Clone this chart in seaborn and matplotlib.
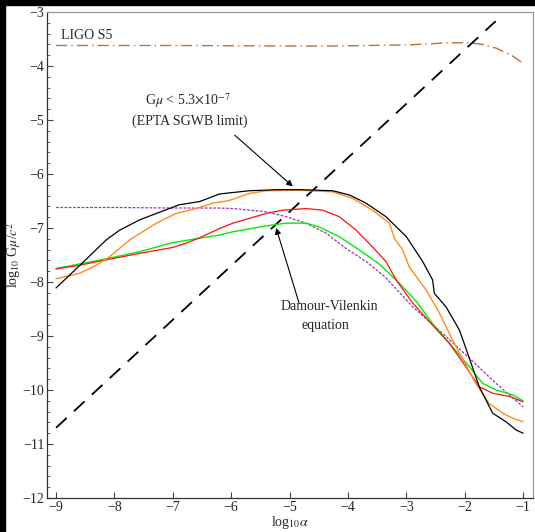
import matplotlib
matplotlib.use("Agg")
import matplotlib.pyplot as plt
import seaborn as sns
import pandas as pd
from matplotlib.patches import Rectangle
from matplotlib.ticker import MultipleLocator

# ---------------- data ----------------
black_x = [-9, -8.6, -8.14, -7.91, -7.57, -7.28, -6.89, -6.54, -6.2, -5.69, -5.2, -4.83, -4.26, -3.97,
           -3.69, -3.35, -3.0, -2.72, -2.55, -2.52, -2.32, -2.09, -1.95, -1.75, -1.52, -1.29, -1.12, -1.0]
black_y = [-8.11, -7.70, -7.22, -7.04, -6.85, -6.73, -6.57, -6.51, -6.37, -6.31, -6.29, -6.29, -6.31, -6.39,
           -6.54, -6.79, -7.16, -7.62, -7.96, -8.21, -8.46, -8.89, -9.32, -9.94, -10.43, -10.59, -10.74, -10.80]

orange_x = [-9, -8.6, -8.31, -8.08, -7.74, -7.28, -6.94, -6.6, -6.31, -6.03, -5.69, -5.4, -4.83, -4.26,
            -3.92, -3.58, -3.29, -3.2, -3.06, -2.95, -2.66, -2.43, -2.21, -2.03, -1.81, -1.58, -1.35, -1.18, -1.0]
orange_y = [-7.94, -7.84, -7.69, -7.53, -7.22, -6.91, -6.73, -6.64, -6.54, -6.49, -6.36, -6.31, -6.30, -6.33,
            -6.45, -6.67, -6.91, -7.20, -7.41, -7.72, -8.15, -8.58, -9.07, -9.44, -9.88, -10.25, -10.43, -10.52, -10.59]

red_x = [-9, -8.6, -8.14, -7.57, -7.0, -6.77, -6.54, -6.2, -5.97, -5.4, -5.12, -4.72, -4.43, -4.15,
         -3.86, -3.58, -3.35, -3.17, -2.89, -2.55, -2.26, -1.98, -1.75, -1.52, -1.23, -1.0]
red_y = [-7.76, -7.69, -7.59, -7.47, -7.36, -7.28, -7.18, -7.01, -6.91, -6.73, -6.67, -6.64, -6.67, -6.79,
         -7.04, -7.35, -7.62, -7.97, -8.39, -8.80, -9.14, -9.57, -9.94, -10.06, -10.12, -10.22]

green_x = [-9, -8.14, -7.57, -7.0, -6.2, -5.97, -5.4, -5.06, -4.72, -4.49, -4.15, -3.8, -3.46, -3.12,
           -2.83, -2.55, -2.21, -1.92, -1.69, -1.46, -1.18, -1.0]
green_y = [-7.75, -7.57, -7.44, -7.27, -7.13, -7.07, -6.96, -6.91, -6.91, -6.98, -7.16, -7.41, -7.67, -8.02,
           -8.36, -8.77, -9.20, -9.57, -9.88, -10.0, -10.09, -10.20]

purple_x = [-9, -8, -7, -6.2, -5.97, -5.4, -5.06, -4.72, -4.37, -4.03, -3.69, -3.37, -2.89, -2.32,
            -1.92, -1.46, -1.0]
purple_y = [-6.62, -6.62, -6.63, -6.63, -6.64, -6.70, -6.79, -6.91, -7.10, -7.38, -7.62, -7.90, -8.46, -9.01,
            -9.41, -9.88, -10.31]

ligo_x = [-9, -7, -5, -4.3, -3.0, -2.6, -2.32, -1.92, -1.7, -1.46, -1.2, -1.0]
ligo_y = [-3.62, -3.62, -3.63, -3.63, -3.61, -3.59, -3.57, -3.57, -3.60, -3.67, -3.80, -3.95]

dashed_x = [-9, -1.47]
dashed_y = [-10.7, -3.17]

x_ticks = [-9, -8, -7, -6, -5, -4, -3, -2, -1]
y_ticks = [-12, -11, -10, -9, -8, -7, -6, -5, -4, -3]

# ---------------- style ----------------
sns.set_style("ticks")
plt.rcParams['font.family'] = ['Liberation Serif', 'DejaVu Serif']
plt.rcParams['mathtext.fontset'] = 'stix'

fig = plt.figure(figsize=(5.35, 5.32), dpi=100, facecolor='white')
# black border strips (top and left)
fig.patches.append(Rectangle((0, 0), 4.5 / 535, 1, transform=fig.transFigure, color='black', zorder=-10))
fig.patches.append(Rectangle((0, 1 - 4.5 / 532), 1, 4.5 / 532, transform=fig.transFigure, color='black', zorder=-10))

ax = fig.add_axes([47 / 535, 1 - 498 / 532, (532.7 - 47) / 535, (498 - 12) / 532])


def draw(xs, ys, **kw):
    df = pd.DataFrame({'x': xs, 'y': ys})
    sns.lineplot(data=df, x='x', y='y', ax=ax, sort=False, estimator=None, **kw)


draw(ligo_x, ligo_y, color='#b8743a', lw=1.0, linestyle=(0, (8, 3, 1, 3)))
draw(dashed_x, dashed_y, color='black', lw=1.3, linestyle=(0, (8, 5.5)))
draw(purple_x, purple_y, color='#9a32c8', lw=0.9, linestyle=(0, (2.2, 1.2)))
draw(green_x, green_y, color='#00ee00', lw=1.0)
draw(red_x, red_y, color='#ff1010', lw=0.9)
draw(orange_x, orange_y, color='#ff8c1a', lw=1.0)
draw(black_x, black_y, color='black', lw=0.9)

ax.set_xlim(-9.155, -0.835)
ax.set_ylim(-12, -3)
ax.set_xticks(x_ticks)
ax.set_yticks(y_ticks)
ax.set_xticklabels([f"\u2212{abs(v)}" for v in x_ticks])
ax.set_yticklabels([f"\u2212{abs(v)}" for v in y_ticks])
ax.yaxis.set_minor_locator(MultipleLocator(0.2))
ax.tick_params(axis='both', which='major', direction='in', length=4, width=0.8,
               labelsize=10, color='#444444', pad=2)
ax.tick_params(axis='y', which='minor', direction='in', length=2, width=0.6, color='#444444')
ax.tick_params(top=False, right=False)

for s in ['left', 'bottom']:
    ax.spines[s].set_color('#333333')
    ax.spines[s].set_linewidth(0.9)
for s in ['top', 'right']:
    ax.spines[s].set_color('#999999')
    ax.spines[s].set_linewidth(0.9)
    ax.spines[s].set_visible(True)

ax.set_xlabel(r'log$_{10}\alpha$', fontsize=10, labelpad=0)
ax.set_ylabel(r'log$_{10}$ G$\mu$/$c^2$', fontsize=10)
ax.yaxis.set_label_coords(-0.05, 0.5)

# annotations
ax.text(-8.91, -3.43, 'LIGO S5', fontsize=10, ha='left', va='center')
ax.text(-6.74, -4.64, r'G$\mu$ < 5.3$\times$10$^{-7}$', fontsize=10, ha='center', va='center')
ax.text(-6.71, -5.03, '(EPTA SGWB limit)', fontsize=10, ha='center', va='center')
ax.text(-4.31, -8.46, 'Damour-Vilenkin', fontsize=10, ha='center', va='center')
ax.text(-4.39, -8.80, 'equation', fontsize=10, ha='center', va='center')

arrow = dict(arrowstyle='-|>', color='black', lw=0.8, mutation_scale=9, shrinkA=0, shrinkB=0)
ax.annotate('', xy=(-4.945, -6.23), xytext=(-5.94, -5.28), arrowprops=arrow)
ax.annotate('', xy=(-5.23, -7.0), xytext=(-4.84, -8.38), arrowprops=arrow)

fig.savefig('out.png', dpi=100, facecolor=fig.get_facecolor())
